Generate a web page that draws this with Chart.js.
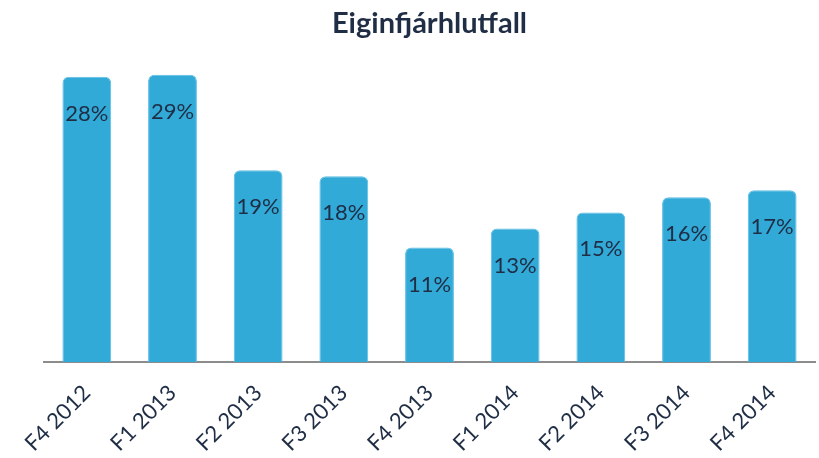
<!DOCTYPE html>
<html>
<head>
<meta charset="utf-8">
<script src="https://cdn.jsdelivr.net/npm/chart.js@4.4.1/dist/chart.umd.min.js"></script>
<style>
  html, body { margin: 0; padding: 0; background: #fff; }
  #wrap { width: 819px; height: 458px; }
</style>
</head>
<body>
<div id="wrap"><canvas id="ratioChart"></canvas></div>
<script>
// Data for equity ratio chart
const quarters = ['F4 2012', 'F1 2013', 'F2 2013', 'F3 2013', 'F4 2013', 'F1 2014', 'F2 2014', 'F3 2014', 'F4 2014'];
const equityRatio = [28.4, 28.6, 19.1, 18.49, 11.4, 13.3, 14.9, 16.4, 17.1];
const yMax = 30;

const textColor = '#1f2d45';

// Draw the % value inside the top of each bar
const valueLabels = {
    id: 'valueLabels',
    afterDatasetsDraw(chart) {
        const ctx = chart.ctx;
        const meta = chart.getDatasetMeta(0);
        ctx.save();
        ctx.font = '22px Lato';
        ctx.fillStyle = textColor;
        ctx.textAlign = 'center';
        ctx.textBaseline = 'middle';
        meta.data.forEach((bar, i) => {
            ctx.fillText(Math.round(equityRatio[i]) + '%', bar.x, bar.y + 37);
        });
        ctx.restore();
    }
};

const ctx = document.getElementById('ratioChart').getContext('2d');
const ratioChart = new Chart(ctx, {
    type: 'bar',
    data: {
        labels: quarters,
        datasets: [{
            label: 'Eiginfjárhlutfall',
            data: equityRatio,
            backgroundColor: '#32aad8',
            borderColor: '#5dbde3',
            borderWidth: 1,
            borderRadius: { topLeft: 6, topRight: 6 },
            borderSkipped: 'bottom',
            barPercentage: 0.57,
            categoryPercentage: 1
        }]
    },
    options: {
        responsive: true,
        maintainAspectRatio: false,
        animation: false,
        layout: { padding: { left: 44, right: 4, top: 4, bottom: 0 } },
        plugins: {
            legend: { display: false },
            tooltip: { enabled: false },
            title: {
                display: true,
                text: 'Eiginfjárhlutfall',
                color: textColor,
                font: { family: 'Lato', size: 29, weight: 'bold' },
                padding: { top: 2, bottom: 20 }
            }
        },
        scales: {
            x: {
                z: 1,
                afterFit: (scale) => { scale.height = 96; },
                grid: { display: false, drawTicks: false },
                border: { display: true, color: '#8c8c8c', width: 2 },
                ticks: {
                    color: textColor,
                    font: { family: 'Lato', size: 22 },
                    maxRotation: 45,
                    minRotation: 45,
                    padding: 18
                }
            },
            y: {
                display: false,
                min: 0,
                max: yMax
            }
        }
    },
    plugins: [valueLabels]
});
</script>
</body>
</html>
